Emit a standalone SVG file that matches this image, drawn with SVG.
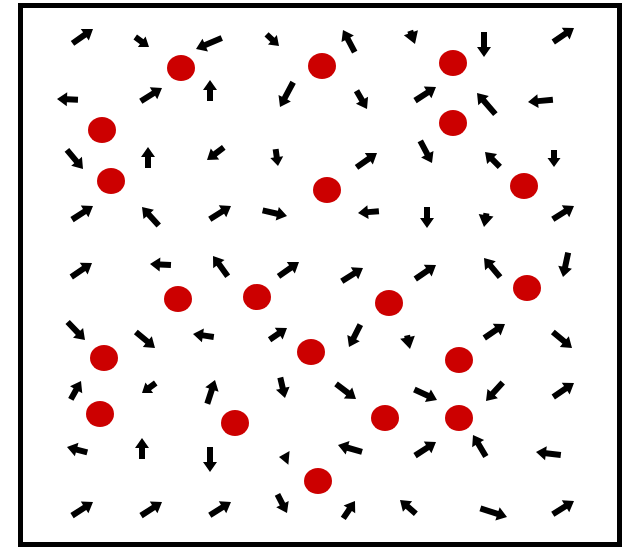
<svg xmlns="http://www.w3.org/2000/svg" width="629" height="547" viewBox="0 0 629 547">
<style>
.dot{fill:#cc0000}
.ar{fill:#000}
</style>
<defs>
<path id="a28" class="ar" d="M0,0 L-10,-7 L-10,-3 L-28,-3 L-28,3 L-10,3 L-10,7 Z"/>
<path id="a25" class="ar" d="M0,0 L-10,-7 L-10,-3 L-25,-3 L-25,3 L-10,3 L-10,7 Z"/>
<path id="a21" class="ar" d="M0,0 L-10,-7 L-10,-3 L-21,-3 L-21,3 L-10,3 L-10,7 Z"/>
<path id="a17" class="ar" d="M0,0 L-9,-6.5 L-9,-3 L-17,-3 L-17,3 L-9,3 L-9,6.5 Z"/>
<path id="a13" class="ar" d="M0,0 L-8,-6 L-8,-3 L-13,-3 L-13,3 L-8,3 L-8,6 Z"/>
<path id="a10" class="ar" d="M0,0 L-10,-7 L-10,7 Z"/>
<path id="h13" class="ar" d="M0,0 L-12,-7.5 L-12,-3 L-14,-3 L-14,3 L-12,3 L-12,7.5 Z"/>
</defs>
<rect x="0" y="0" width="629" height="547" fill="#fff"/>
<rect x="20.5" y="5.5" width="599" height="539" fill="none" stroke="#000" stroke-width="5"/>
<g id="arrows">
<!-- row 1 -->
<use href="#a25" transform="translate(93,29) rotate(-35)"/>
<use href="#a17" transform="translate(149,47) rotate(36)"/>
<use href="#a28" transform="translate(196,49) rotate(157)"/>
<use href="#a17" transform="translate(279,46) rotate(43)"/>
<use href="#a25" transform="translate(343,30) rotate(-118)"/>
<use href="#h13" transform="translate(415,44) rotate(70)"/>
<use href="#a25" transform="translate(484,57) rotate(90)"/>
<use href="#a25" transform="translate(574,28) rotate(-34)"/>
<!-- row 2 -->
<use href="#a21" transform="translate(57,99) rotate(182)"/>
<use href="#a25" transform="translate(162,88) rotate(-32)"/>
<use href="#a21" transform="translate(210,80) rotate(-90)"/>
<use href="#a28" transform="translate(280,107) rotate(118)"/>
<use href="#a21" transform="translate(367,109) rotate(60)"/>
<use href="#a25" transform="translate(436,87) rotate(-33)"/>
<use href="#a28" transform="translate(477,93) rotate(-131)"/>
<use href="#a25" transform="translate(528,102) rotate(175)"/>
<!-- row 3 -->
<use href="#a25" transform="translate(83,169) rotate(50)"/>
<use href="#a21" transform="translate(148,147) rotate(-90)"/>
<use href="#a21" transform="translate(207,160) rotate(143)"/>
<use href="#a17" transform="translate(278,166) rotate(82)"/>
<use href="#a25" transform="translate(377,153) rotate(-35)"/>
<use href="#a25" transform="translate(432,163) rotate(62)"/>
<use href="#a21" transform="translate(485,152) rotate(-135)"/>
<use href="#a17" transform="translate(554,167) rotate(90)"/>
<!-- row 4 -->
<use href="#a25" transform="translate(93,206) rotate(-33)"/>
<use href="#a25" transform="translate(142,207) rotate(-132)"/>
<use href="#a25" transform="translate(231,206) rotate(-32)"/>
<use href="#a25" transform="translate(287,216) rotate(13)"/>
<use href="#a21" transform="translate(358,213) rotate(175)"/>
<use href="#a21" transform="translate(427,228) rotate(90)"/>
<use href="#h13" transform="translate(484,227) rotate(100)"/>
<use href="#a25" transform="translate(574,206) rotate(-32)"/>
<!-- row 5 -->
<use href="#a25" transform="translate(92,263) rotate(-34)"/>
<use href="#a21" transform="translate(150,264) rotate(183)"/>
<use href="#a25" transform="translate(213,256) rotate(-126)"/>
<use href="#a25" transform="translate(299,262) rotate(-35)"/>
<use href="#a25" transform="translate(363,268) rotate(-32)"/>
<use href="#a25" transform="translate(436,265) rotate(-34)"/>
<use href="#a25" transform="translate(484,258) rotate(-130)"/>
<use href="#a25" transform="translate(563,277) rotate(102)"/>
<!-- row 6 -->
<use href="#a25" transform="translate(85,340) rotate(46)"/>
<use href="#a25" transform="translate(155,348) rotate(40)"/>
<use href="#a21" transform="translate(193,334) rotate(188)"/>
<use href="#a21" transform="translate(287,328) rotate(-34)"/>
<use href="#a25" transform="translate(349,347) rotate(117)"/>
<use href="#h13" transform="translate(410,349) rotate(78)"/>
<use href="#a25" transform="translate(505,324) rotate(-34)"/>
<use href="#a25" transform="translate(572,348) rotate(40)"/>
<!-- row 7 -->
<use href="#a21" transform="translate(81,381) rotate(-61)"/>
<use href="#a17" transform="translate(142,393) rotate(144)"/>
<use href="#a25" transform="translate(215,380) rotate(-72)"/>
<use href="#a21" transform="translate(285,398) rotate(77)"/>
<use href="#a25" transform="translate(356,399) rotate(37)"/>
<use href="#a25" transform="translate(437,400) rotate(25)"/>
<use href="#a25" transform="translate(486,401) rotate(132)"/>
<use href="#a25" transform="translate(574,383) rotate(-34)"/>
<!-- row 8 -->
<use href="#a21" transform="translate(67,447) rotate(195)"/>
<use href="#a21" transform="translate(142,438) rotate(-90)"/>
<use href="#a25" transform="translate(210,472) rotate(90)"/>
<use href="#a10" transform="translate(279,457) rotate(185)"/>
<use href="#a25" transform="translate(338,445) rotate(196)"/>
<use href="#a25" transform="translate(436,442) rotate(-33)"/>
<use href="#a25" transform="translate(473,435) rotate(-121)"/>
<use href="#a25" transform="translate(536,452) rotate(187)"/>
<!-- row 9 -->
<use href="#a25" transform="translate(93,502) rotate(-33)"/>
<use href="#a25" transform="translate(162,502) rotate(-33)"/>
<use href="#a25" transform="translate(231,502) rotate(-32)"/>
<use href="#a21" transform="translate(287,513) rotate(63)"/>
<use href="#a21" transform="translate(355,501) rotate(-56)"/>
<use href="#a21" transform="translate(400,500) rotate(-139)"/>
<use href="#a28" transform="translate(507,517) rotate(18)"/>
<use href="#a25" transform="translate(574,501) rotate(-32)"/>
</g>
<g id="particles">
<ellipse class="dot" cx="181" cy="68" rx="14" ry="13"/>
<ellipse class="dot" cx="102" cy="130" rx="14" ry="13"/>
<ellipse class="dot" cx="111" cy="181" rx="14" ry="13"/>
<ellipse class="dot" cx="322" cy="66" rx="14" ry="13"/>
<ellipse class="dot" cx="327" cy="190" rx="14" ry="13"/>
<ellipse class="dot" cx="453" cy="63" rx="14" ry="13"/>
<ellipse class="dot" cx="453" cy="123" rx="14" ry="13"/>
<ellipse class="dot" cx="524" cy="186" rx="14" ry="13"/>
<ellipse class="dot" cx="178" cy="299" rx="14" ry="13"/>
<ellipse class="dot" cx="104" cy="358" rx="14" ry="13"/>
<ellipse class="dot" cx="257" cy="297" rx="14" ry="13"/>
<ellipse class="dot" cx="389" cy="303" rx="14" ry="13"/>
<ellipse class="dot" cx="311" cy="352" rx="14" ry="13"/>
<ellipse class="dot" cx="527" cy="288" rx="14" ry="13"/>
<ellipse class="dot" cx="459" cy="360" rx="14" ry="13"/>
<ellipse class="dot" cx="100" cy="414" rx="14" ry="13"/>
<ellipse class="dot" cx="235" cy="423" rx="14" ry="13"/>
<ellipse class="dot" cx="385" cy="418" rx="14" ry="13"/>
<ellipse class="dot" cx="318" cy="481" rx="14" ry="13"/>
<ellipse class="dot" cx="459" cy="418" rx="14" ry="13"/>
</g>
</svg>
